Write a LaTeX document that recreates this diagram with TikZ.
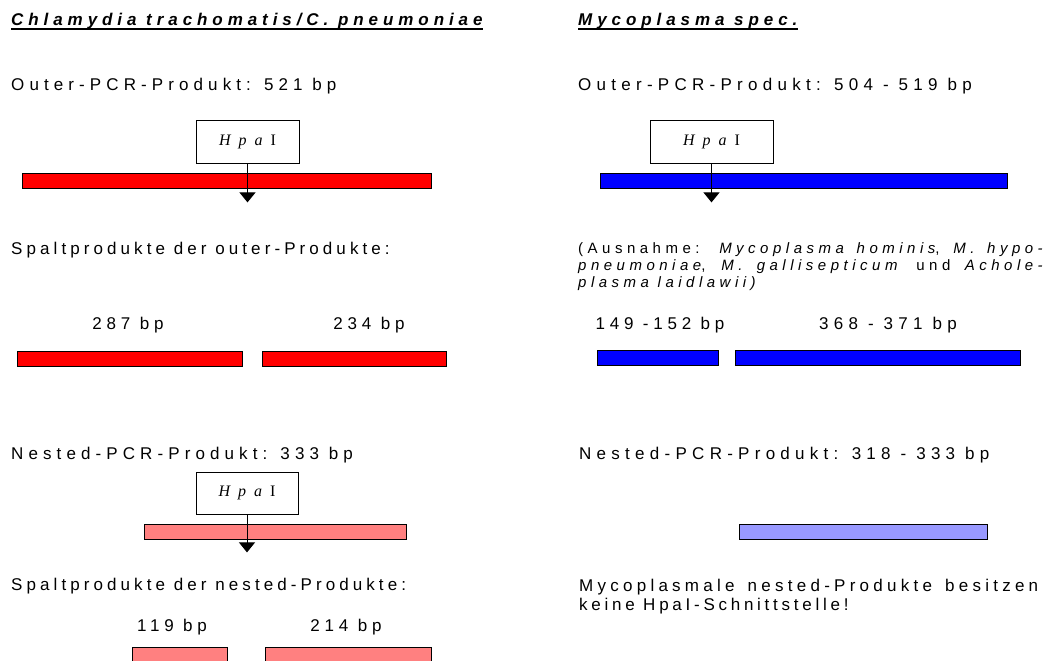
\documentclass[tikz,border=0pt]{standalone}
\usepackage{fontspec}
\setmainfont{Liberation Sans}[LetterSpace=25]
\newfontfamily\enzfont{Liberation Serif}[LetterSpace=50]
\usetikzlibrary{arrows.meta}
\definecolor{cutred}{HTML}{FF0000}
\definecolor{cutblue}{HTML}{0000FF}
\definecolor{cutpink}{HTML}{FF8080}
\definecolor{cutlav}{HTML}{9999FF}
\newcommand{\hpa}{{\itshape Hpa}\kern0.5em I}

\begin{document}
\begin{tikzpicture}[x=1pt,y=-1pt]

%% ── helpers ───────────────────────────────────────────────
\tikzset{
  bar/.style={rectangle,draw=black,fill=#1,line width=1pt,
              minimum height=15pt,inner sep=0pt},
  enz/.style={rectangle,draw=black,fill=white,line width=0.8pt,
              minimum width=#1,minimum height=43pt,inner sep=0pt,
              font=\enzfont\fontsize{16}{18}\selectfont},
  txt/.style={anchor=base west,inner sep=0pt,
              font=\fontsize{17}{19}\selectfont\addfontfeatures{LetterSpace=#1}},
  txt/.default=25,
  bplabel/.style={anchor=base,inner sep=0pt,
              font=\fontsize{17}{19}\selectfont\addfontfeatures{LetterSpace=#1}},
  bplabel/.default=28,
  head/.style={anchor=base west,inner sep=0pt,
               font=\fontsize{17}{19}\selectfont\bfseries\itshape\addfontfeatures{LetterSpace=29}},
  remark/.style={anchor=base west,inner sep=0pt,
               font=\fontsize{15}{17}\selectfont\addfontfeatures{LetterSpace=30}},
  cutarr/.style={-{Triangle[width=16pt,length=10pt]},line width=1pt},
}
\useasboundingbox (0,0) rectangle (1063,661);

%% ── HEADINGS ─────────────────────────────────────────────
\node[head] (hChl) at (11,26)  {Chlamydia trachomatis/C. pneumoniae};
\node[head] (hMyc) at (578,26) {Mycoplasma spec.};
\draw[line width=1.2pt] ([yshift=-3pt]hChl.base west) -- ([yshift=-3pt]hChl.base east);
\draw[line width=1.2pt] ([yshift=-3pt]hMyc.base west) -- ([yshift=-3pt]hMyc.base east);

%% ── OUTER PCR (top row) ──────────────────────────────────
\node[txt=30] (outL) at (11,91)  {Outer-PCR-Produkt: 521 bp};
\node[txt=31] (outR) at (578,91) {Outer-PCR-Produkt: 504 - 519 bp};

\node[bar=cutred,minimum width=409pt]  (barOL) at (226.5,180.5) {};
\node[bar=cutblue,minimum width=407pt] (barOR) at (803.5,180.5) {};

\node[enz=103pt] (enzOL) at (247.5,141.5) {\hpa};
\node[enz=123pt] (enzOR) at (711.5,141.5) {\hpa};

\coordinate (cutOL) at ([yshift=-39pt]enzOL.south);
\coordinate (cutOR) at ([yshift=-39pt]enzOR.south);
\draw[cutarr] (enzOL.south) -- (cutOL);
\draw[cutarr] (enzOR.south) -- (cutOR);

%% ── OUTER CLEAVAGE PRODUCTS ──────────────────────────────
\node[txt=24] (spOL) at (11,254) {Spaltprodukte der outer-Produkte:};
\node[remark] (exA) at (578,253)
  {\makebox[469pt][s]{(Ausnahme: \textit{Mycoplasma hominis}, \textit{M. hypo-}}};
\node[remark] (exB) at (578,270)
  {\makebox[469pt][s]{\textit{pneumoniae}, \textit{M. gallisepticum} und \textit{Achole-}}};
\node[remark] (exC) at (578,287) {\textit{plasma laidlawii)}};

\node[bplabel] (l287) at (128,329) {287 bp};
\node[bplabel] (l234) at (369,329) {234 bp};
\node[bplabel] (l149) at (660,329) {149 -152 bp};
\node[bplabel=31] (l368) at (888,329) {368 - 371 bp};

\node[bar=cutred,minimum width=225pt]  (b287) at (129.5,358.5) {};
\node[bar=cutred,minimum width=184pt]  (b234) at (354,358.5) {};
\node[bar=cutblue,minimum width=121pt] (b149) at (657.5,358) {};
\node[bar=cutblue,minimum width=285pt] (b368) at (877.5,358) {};

%% ── NESTED PCR ───────────────────────────────────────────
\node[txt=30] (nesL) at (11,459)  {Nested-PCR-Produkt: 333 bp};
\node[txt=31] (nesR) at (579,459) {Nested-PCR-Produkt: 318 - 333 bp};

\node[bar=cutpink,minimum width=262pt] (barNL) at (275,531.5) {};
\node[bar=cutlav,minimum width=248pt]  (barNR) at (863,531.5) {};

\node[enz=102pt,minimum height=42pt] (enzNL) at (247,493) {\hpa};
\coordinate (cutNL) at ([yshift=-38pt]enzNL.south);
\draw[cutarr] (enzNL.south) -- (cutNL);

%% ── NESTED CLEAVAGE PRODUCTS ─────────────────────────────
\node[txt=24] (spNL) at (11,590) {Spaltprodukte der nested-Produkte:};
\node[txt] (noA) at (579,591)
  {\makebox[459pt][s]{Mycoplasmale nested-Produkte besitzen}};
\node[txt=22] (noB) at (579,610) {keine HpaI-Schnittstelle!};

\node[bplabel] (l119) at (172,631) {119 bp};
\node[bplabel] (l214) at (346,631) {214 bp};

\node[bar=cutpink,minimum width=95pt]  (b119) at (179.5,654.5) {};
\node[bar=cutpink,minimum width=166pt] (b214) at (348,654.5) {};

\end{tikzpicture}
\end{document}
